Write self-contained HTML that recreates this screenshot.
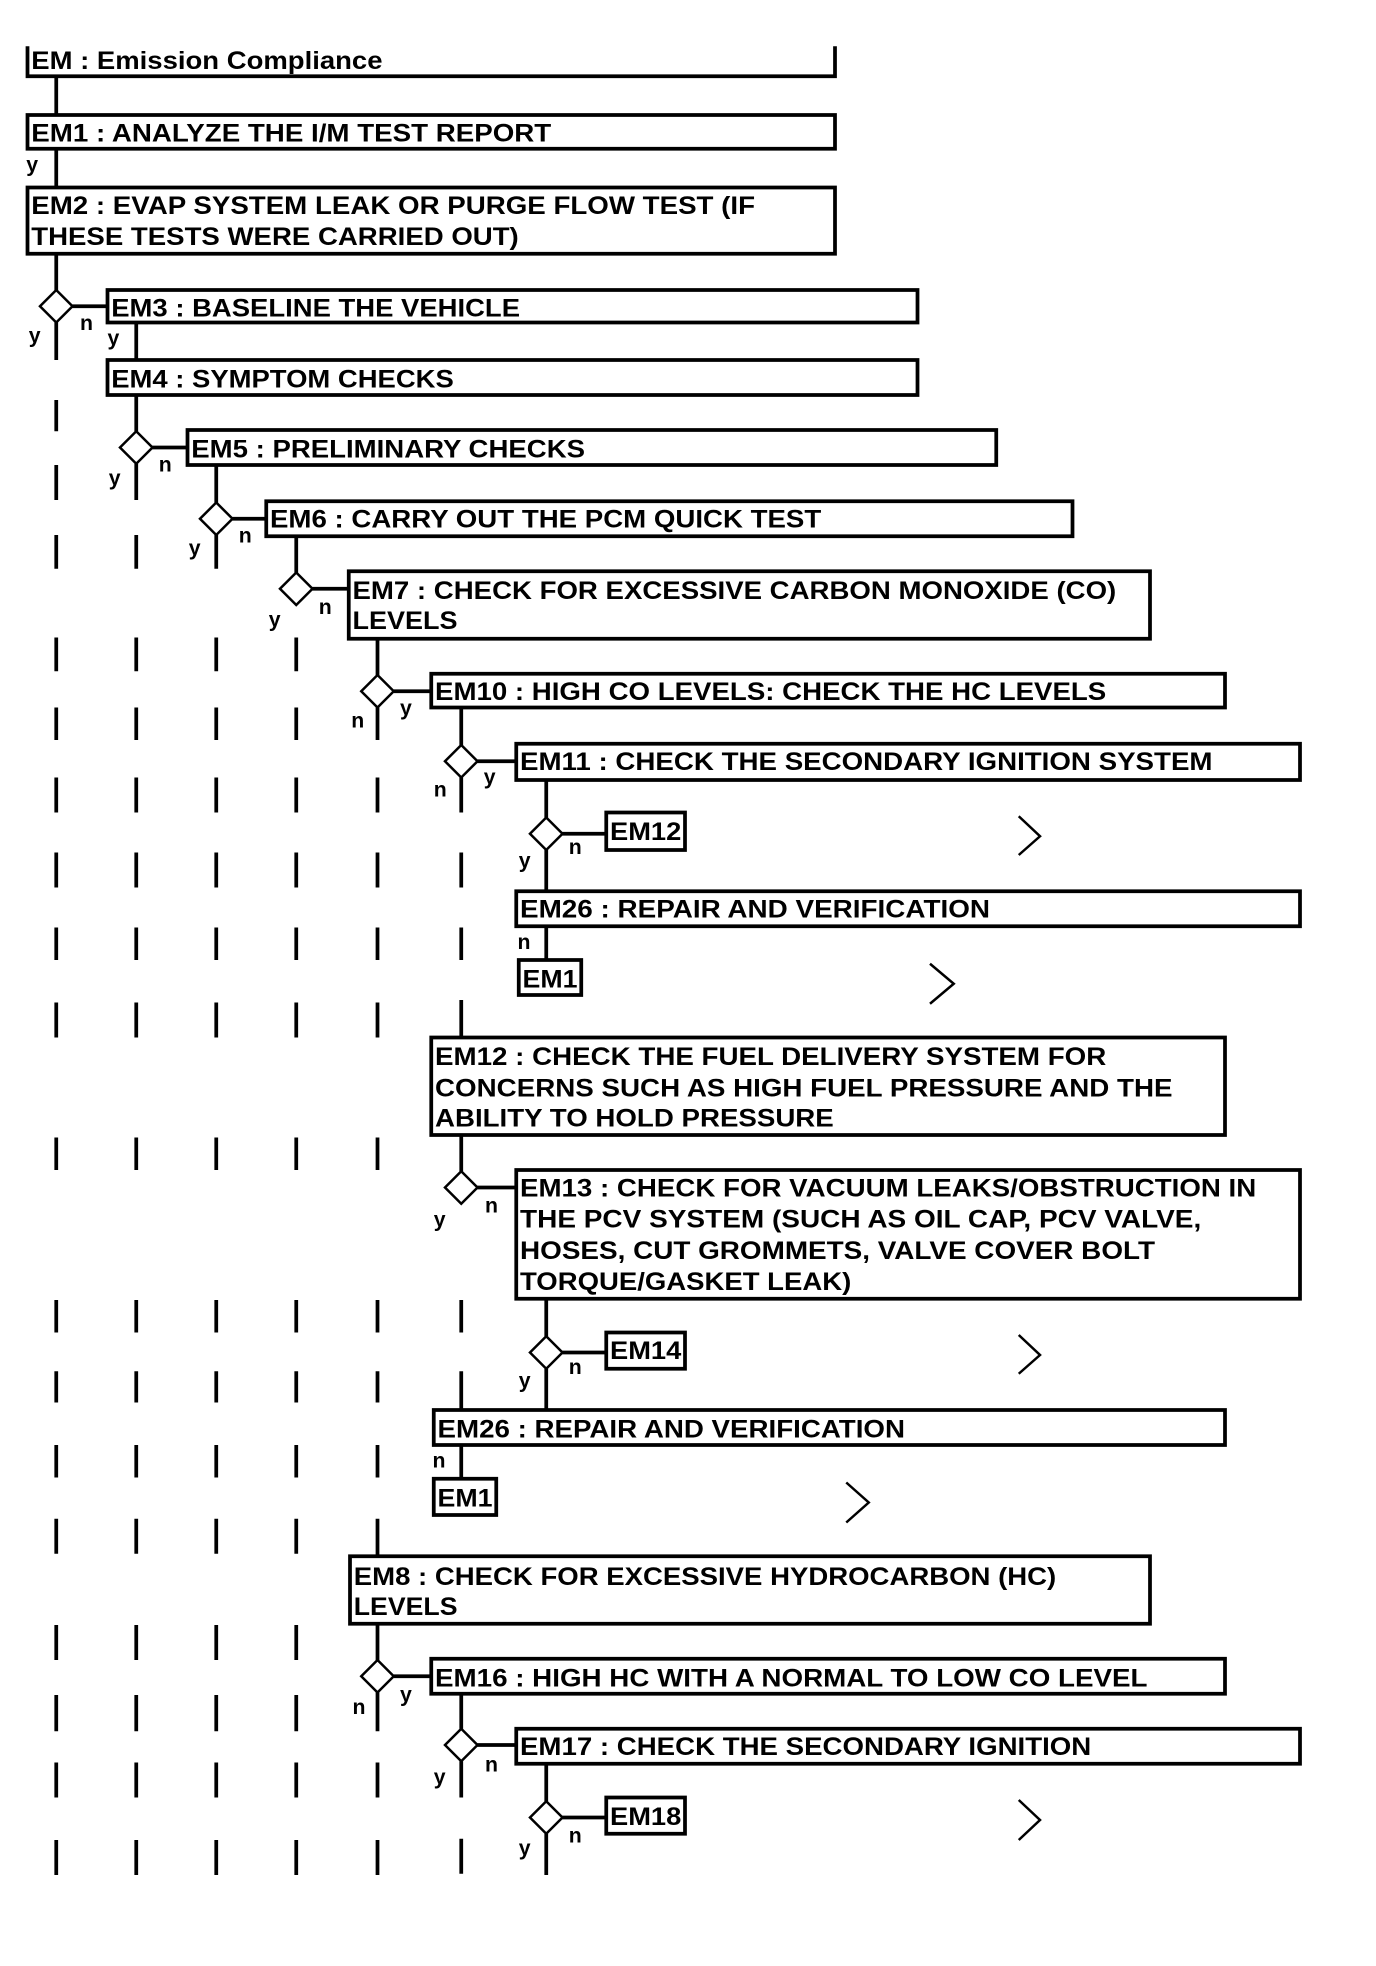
<!DOCTYPE html>
<html><head><meta charset="utf-8"><style>
html,body{margin:0;padding:0;background:#fff;}
svg{display:block;}
text{font-family:"Liberation Sans",Arial,sans-serif;font-weight:bold;fill:#000;}
.t{font-size:20px;}
.l{font-size:17px;}
.b{fill:#fff;stroke:#000;stroke-width:3;}
.ln{stroke:#000;stroke-width:3;fill:none;}
.d{fill:#fff;stroke:#000;stroke-width:2;}
.c{stroke:#000;stroke-width:2;fill:none;}
</style></head><body>
<svg width="1376" height="1966" viewBox="0 0 1100.8 1572.8" preserveAspectRatio="none" xmlns="http://www.w3.org/2000/svg">
<!-- title -->
<polyline class="ln" points="22,37 22,61 668,61 668,37"/>
<text class="t" x="25" y="55" textLength="281" lengthAdjust="spacingAndGlyphs">EM : Emission Compliance</text>
<!-- main column 45 -->
<line class="ln" x1="45" y1="61" x2="45" y2="92"/>
<line class="ln" x1="45" y1="119" x2="45" y2="150"/>
<line class="ln" x1="45" y1="203" x2="45" y2="232"/>
<line class="ln" x1="45" y1="258" x2="45" y2="288"/>
<rect class="b" x="22" y="92" width="646" height="27"/>
<text class="t" x="25" y="113" textLength="416" lengthAdjust="spacingAndGlyphs">EM1 : ANALYZE THE I/M TEST REPORT</text>
<text class="l" x="21" y="137">y</text>
<rect class="b" x="22" y="150" width="646" height="53"/>
<text class="t" x="25" y="171" textLength="579" lengthAdjust="spacingAndGlyphs">EM2 : EVAP SYSTEM LEAK OR PURGE FLOW TEST (IF</text>
<text class="t" x="25" y="196" textLength="390" lengthAdjust="spacingAndGlyphs">THESE TESTS WERE CARRIED OUT)</text>

<!-- connectors -->
<g class="ln">
<line x1="58" y1="245" x2="86" y2="245"/>
<line x1="109" y1="258" x2="109" y2="288"/>
<line x1="109" y1="316" x2="109" y2="345"/>
<line x1="122" y1="358" x2="150" y2="358"/>
<line x1="173" y1="372" x2="173" y2="402"/>
<line x1="186" y1="415" x2="213" y2="415"/>
<line x1="237" y1="429" x2="237" y2="458"/>
<line x1="250" y1="471" x2="279" y2="471"/>
<line x1="302" y1="511" x2="302" y2="540"/>
<line x1="315" y1="553" x2="345" y2="553"/>
<line x1="369" y1="566" x2="369" y2="596"/>
<line x1="382" y1="609" x2="413" y2="609"/>
<line x1="437" y1="624" x2="437" y2="654"/>
<line x1="450" y1="667" x2="485" y2="667"/>
<line x1="437" y1="741" x2="437" y2="768"/>
<line x1="369" y1="908" x2="369" y2="937"/>
<line x1="382" y1="950" x2="413" y2="950"/>
<line x1="437" y1="1039" x2="437" y2="1069"/>
<line x1="450" y1="1082" x2="485" y2="1082"/>
<line x1="437" y1="1095" x2="437" y2="1128"/>
<line x1="369" y1="1156" x2="369" y2="1183"/>
<line x1="302" y1="1299" x2="302" y2="1328"/>
<line x1="315" y1="1341" x2="345" y2="1341"/>
<line x1="369" y1="1355" x2="369" y2="1383"/>
<line x1="382" y1="1396" x2="413" y2="1396"/>
<line x1="437" y1="1411" x2="437" y2="1441"/>
<line x1="450" y1="1454" x2="485" y2="1454"/>
</g>

<!-- dash bands -->
<g class="ln">
<line x1="45" y1="320" x2="45" y2="345"/>
<line x1="45" y1="372" x2="45" y2="400"/><line x1="109" y1="371" x2="109" y2="400"/>
<line x1="45" y1="428" x2="45" y2="455"/><line x1="109" y1="428" x2="109" y2="455"/><line x1="173" y1="428" x2="173" y2="455"/>
<line x1="45" y1="510" x2="45" y2="537"/><line x1="109" y1="510" x2="109" y2="537"/><line x1="173" y1="510" x2="173" y2="537"/><line x1="237" y1="510" x2="237" y2="537"/>
<line x1="45" y1="566" x2="45" y2="592"/><line x1="109" y1="566" x2="109" y2="592"/><line x1="173" y1="566" x2="173" y2="592"/><line x1="237" y1="566" x2="237" y2="592"/><line x1="302" y1="566" x2="302" y2="592"/>
<line x1="45" y1="622" x2="45" y2="650"/><line x1="109" y1="622" x2="109" y2="650"/><line x1="173" y1="622" x2="173" y2="650"/><line x1="237" y1="622" x2="237" y2="650"/><line x1="302" y1="622" x2="302" y2="650"/><line x1="369" y1="622" x2="369" y2="650"/>
<line x1="45" y1="682" x2="45" y2="710"/><line x1="109" y1="682" x2="109" y2="710"/><line x1="173" y1="682" x2="173" y2="710"/><line x1="237" y1="682" x2="237" y2="710"/><line x1="302" y1="682" x2="302" y2="710"/><line x1="369" y1="682" x2="369" y2="710"/><line x1="437" y1="680" x2="437" y2="713"/>
<line x1="45" y1="742" x2="45" y2="768"/><line x1="109" y1="742" x2="109" y2="768"/><line x1="173" y1="742" x2="173" y2="768"/><line x1="237" y1="742" x2="237" y2="768"/><line x1="302" y1="742" x2="302" y2="768"/><line x1="369" y1="742" x2="369" y2="768"/>
<line x1="45" y1="802" x2="45" y2="830"/><line x1="109" y1="802" x2="109" y2="830"/><line x1="173" y1="802" x2="173" y2="830"/><line x1="237" y1="802" x2="237" y2="830"/><line x1="302" y1="802" x2="302" y2="830"/><line x1="369" y1="800" x2="369" y2="830"/>
<line x1="45" y1="910" x2="45" y2="936"/><line x1="109" y1="910" x2="109" y2="936"/><line x1="173" y1="910" x2="173" y2="936"/><line x1="237" y1="910" x2="237" y2="936"/><line x1="302" y1="910" x2="302" y2="936"/>
<line x1="45" y1="1040" x2="45" y2="1066"/><line x1="109" y1="1040" x2="109" y2="1066"/><line x1="173" y1="1040" x2="173" y2="1066"/><line x1="237" y1="1040" x2="237" y2="1066"/><line x1="302" y1="1040" x2="302" y2="1066"/><line x1="369" y1="1040" x2="369" y2="1066"/>
<line x1="45" y1="1097" x2="45" y2="1122"/><line x1="109" y1="1097" x2="109" y2="1122"/><line x1="173" y1="1097" x2="173" y2="1122"/><line x1="237" y1="1097" x2="237" y2="1122"/><line x1="302" y1="1097" x2="302" y2="1122"/><line x1="369" y1="1097" x2="369" y2="1128"/>
<line x1="45" y1="1156" x2="45" y2="1182"/><line x1="109" y1="1156" x2="109" y2="1182"/><line x1="173" y1="1156" x2="173" y2="1182"/><line x1="237" y1="1156" x2="237" y2="1182"/><line x1="302" y1="1156" x2="302" y2="1182"/>
<line x1="45" y1="1215" x2="45" y2="1243"/><line x1="109" y1="1215" x2="109" y2="1243"/><line x1="173" y1="1215" x2="173" y2="1243"/><line x1="237" y1="1215" x2="237" y2="1243"/><line x1="302" y1="1215" x2="302" y2="1245"/>
<line x1="45" y1="1300" x2="45" y2="1328"/><line x1="109" y1="1300" x2="109" y2="1328"/><line x1="173" y1="1300" x2="173" y2="1328"/><line x1="237" y1="1300" x2="237" y2="1328"/>
<line x1="45" y1="1356" x2="45" y2="1385"/><line x1="109" y1="1356" x2="109" y2="1385"/><line x1="173" y1="1356" x2="173" y2="1385"/><line x1="237" y1="1356" x2="237" y2="1385"/><line x1="302" y1="1354" x2="302" y2="1385"/>
<line x1="45" y1="1410" x2="45" y2="1438"/><line x1="109" y1="1410" x2="109" y2="1438"/><line x1="173" y1="1410" x2="173" y2="1438"/><line x1="237" y1="1410" x2="237" y2="1438"/><line x1="302" y1="1410" x2="302" y2="1438"/><line x1="369" y1="1409" x2="369" y2="1438"/>
<line x1="45" y1="1472" x2="45" y2="1500"/><line x1="109" y1="1472" x2="109" y2="1500"/><line x1="173" y1="1472" x2="173" y2="1500"/><line x1="237" y1="1472" x2="237" y2="1500"/><line x1="302" y1="1472" x2="302" y2="1500"/><line x1="369" y1="1471" x2="369" y2="1499"/><line x1="437" y1="1467" x2="437" y2="1500"/>
</g>

<!-- diamonds -->
<g class="d">
<polygon points="45,232 58,245 45,258 32,245"/>
<polygon points="109,345 122,358 109,371 96,358"/>
<polygon points="173,402 186,415 173,428 160,415"/>
<polygon points="237,458 250,471 237,484 224,471"/>
<polygon points="302,540 315,553 302,566 289,553"/>
<polygon points="369,596 382,609 369,622 356,609"/>
<polygon points="437,654 450,667 437,680 424,667"/>
<polygon points="369,937 382,950 369,963 356,950"/>
<polygon points="437,1069 450,1082 437,1095 424,1082"/>
<polygon points="302,1328 315,1341 302,1354 289,1341"/>
<polygon points="369,1383 382,1396 369,1409 356,1396"/>
<polygon points="437,1441 450,1454 437,1467 424,1454"/>
</g>

<!-- boxes -->
<rect class="b" x="86" y="232" width="648" height="26"/>
<text class="t" x="89" y="253" textLength="327" lengthAdjust="spacingAndGlyphs">EM3 : BASELINE THE VEHICLE</text>
<rect class="b" x="86" y="288" width="648" height="28"/>
<text class="t" x="89" y="310" textLength="274" lengthAdjust="spacingAndGlyphs">EM4 : SYMPTOM CHECKS</text>
<rect class="b" x="150" y="344" width="647" height="28"/>
<text class="t" x="153" y="366" textLength="315" lengthAdjust="spacingAndGlyphs">EM5 : PRELIMINARY CHECKS</text>
<rect class="b" x="213" y="401" width="645" height="28"/>
<text class="t" x="216" y="422" textLength="441" lengthAdjust="spacingAndGlyphs">EM6 : CARRY OUT THE PCM QUICK TEST</text>
<rect class="b" x="279" y="457" width="641" height="54"/>
<text class="t" x="282" y="479" textLength="611" lengthAdjust="spacingAndGlyphs">EM7 : CHECK FOR EXCESSIVE CARBON MONOXIDE (CO)</text>
<text class="t" x="282" y="503" textLength="84" lengthAdjust="spacingAndGlyphs">LEVELS</text>
<rect class="b" x="345" y="539" width="635" height="27"/>
<text class="t" x="348" y="560" textLength="537" lengthAdjust="spacingAndGlyphs">EM10 : HIGH CO LEVELS: CHECK THE HC LEVELS</text>
<rect class="b" x="413" y="595" width="627" height="29"/>
<text class="t" x="416" y="616" textLength="554" lengthAdjust="spacingAndGlyphs">EM11 : CHECK THE SECONDARY IGNITION SYSTEM</text>
<rect class="b" x="485" y="650" width="63" height="30"/>
<text class="t" x="488" y="672" textLength="57" lengthAdjust="spacingAndGlyphs">EM12</text>
<polyline class="c" points="815,653 832,669 815,684"/>
<rect class="b" x="413" y="713" width="627" height="28"/>
<text class="t" x="416" y="734" textLength="376" lengthAdjust="spacingAndGlyphs">EM26 : REPAIR AND VERIFICATION</text>
<rect class="b" x="415" y="768" width="50" height="28"/>
<text class="t" x="418" y="790" textLength="44" lengthAdjust="spacingAndGlyphs">EM1</text>
<polyline class="c" points="744,771 763,787 744,803"/>
<rect class="b" x="345" y="830" width="635" height="78"/>
<text class="t" x="348" y="852" textLength="537" lengthAdjust="spacingAndGlyphs">EM12 : CHECK THE FUEL DELIVERY SYSTEM FOR</text>
<text class="t" x="348" y="877" textLength="590" lengthAdjust="spacingAndGlyphs">CONCERNS SUCH AS HIGH FUEL PRESSURE AND THE</text>
<text class="t" x="348" y="901" textLength="319" lengthAdjust="spacingAndGlyphs">ABILITY TO HOLD PRESSURE</text>
<rect class="b" x="413" y="936" width="627" height="103"/>
<text class="t" x="416" y="957" textLength="589" lengthAdjust="spacingAndGlyphs">EM13 : CHECK FOR VACUUM LEAKS/OBSTRUCTION IN</text>
<text class="t" x="416" y="982" textLength="545" lengthAdjust="spacingAndGlyphs">THE PCV SYSTEM (SUCH AS OIL CAP, PCV VALVE,</text>
<text class="t" x="416" y="1007" textLength="508" lengthAdjust="spacingAndGlyphs">HOSES, CUT GROMMETS, VALVE COVER BOLT</text>
<text class="t" x="416" y="1032" textLength="265" lengthAdjust="spacingAndGlyphs">TORQUE/GASKET LEAK)</text>
<rect class="b" x="485" y="1066" width="63" height="29"/>
<text class="t" x="488" y="1087" textLength="57" lengthAdjust="spacingAndGlyphs">EM14</text>
<polyline class="c" points="815,1068 832,1084 815,1099"/>
<rect class="b" x="347" y="1128" width="633" height="28"/>
<text class="t" x="350" y="1150" textLength="374" lengthAdjust="spacingAndGlyphs">EM26 : REPAIR AND VERIFICATION</text>
<rect class="b" x="347" y="1183" width="50" height="29"/>
<text class="t" x="350" y="1205" textLength="44" lengthAdjust="spacingAndGlyphs">EM1</text>
<polyline class="c" points="677,1186 695,1202 677,1218"/>
<rect class="b" x="280" y="1245" width="640" height="54"/>
<text class="t" x="283" y="1268" textLength="562" lengthAdjust="spacingAndGlyphs">EM8 : CHECK FOR EXCESSIVE HYDROCARBON (HC)</text>
<text class="t" x="283" y="1292" textLength="83" lengthAdjust="spacingAndGlyphs">LEVELS</text>
<rect class="b" x="345" y="1327" width="635" height="28"/>
<text class="t" x="348" y="1349" textLength="570" lengthAdjust="spacingAndGlyphs">EM16 : HIGH HC WITH A NORMAL TO LOW CO LEVEL</text>
<rect class="b" x="413" y="1383" width="627" height="28"/>
<text class="t" x="416" y="1404" textLength="457" lengthAdjust="spacingAndGlyphs">EM17 : CHECK THE SECONDARY IGNITION</text>
<rect class="b" x="485" y="1438" width="63" height="29"/>
<text class="t" x="488" y="1460" textLength="57" lengthAdjust="spacingAndGlyphs">EM18</text>
<polyline class="c" points="815,1440 832,1456 815,1472"/>

<!-- labels -->
<g class="l">
<text x="23" y="274">y</text><text x="64" y="264">n</text><text x="86" y="276">y</text>
<text x="87" y="388">y</text><text x="127" y="377">n</text>
<text x="151" y="444">y</text><text x="191" y="434">n</text>
<text x="215" y="501">y</text><text x="255" y="491">n</text>
<text x="281" y="582">n</text><text x="320" y="572">y</text>
<text x="347" y="637">n</text><text x="387" y="627">y</text>
<text x="415" y="694">y</text><text x="455" y="683">n</text>
<text x="414" y="759">n</text>
<text x="347" y="981">y</text><text x="388" y="970">n</text>
<text x="415" y="1110">y</text><text x="455" y="1099">n</text>
<text x="346" y="1174">n</text>
<text x="282" y="1371">n</text><text x="320" y="1361">y</text>
<text x="347" y="1427">y</text><text x="388" y="1417">n</text>
<text x="415" y="1484">y</text><text x="455" y="1474">n</text>
</g>
</svg>
</body></html>
